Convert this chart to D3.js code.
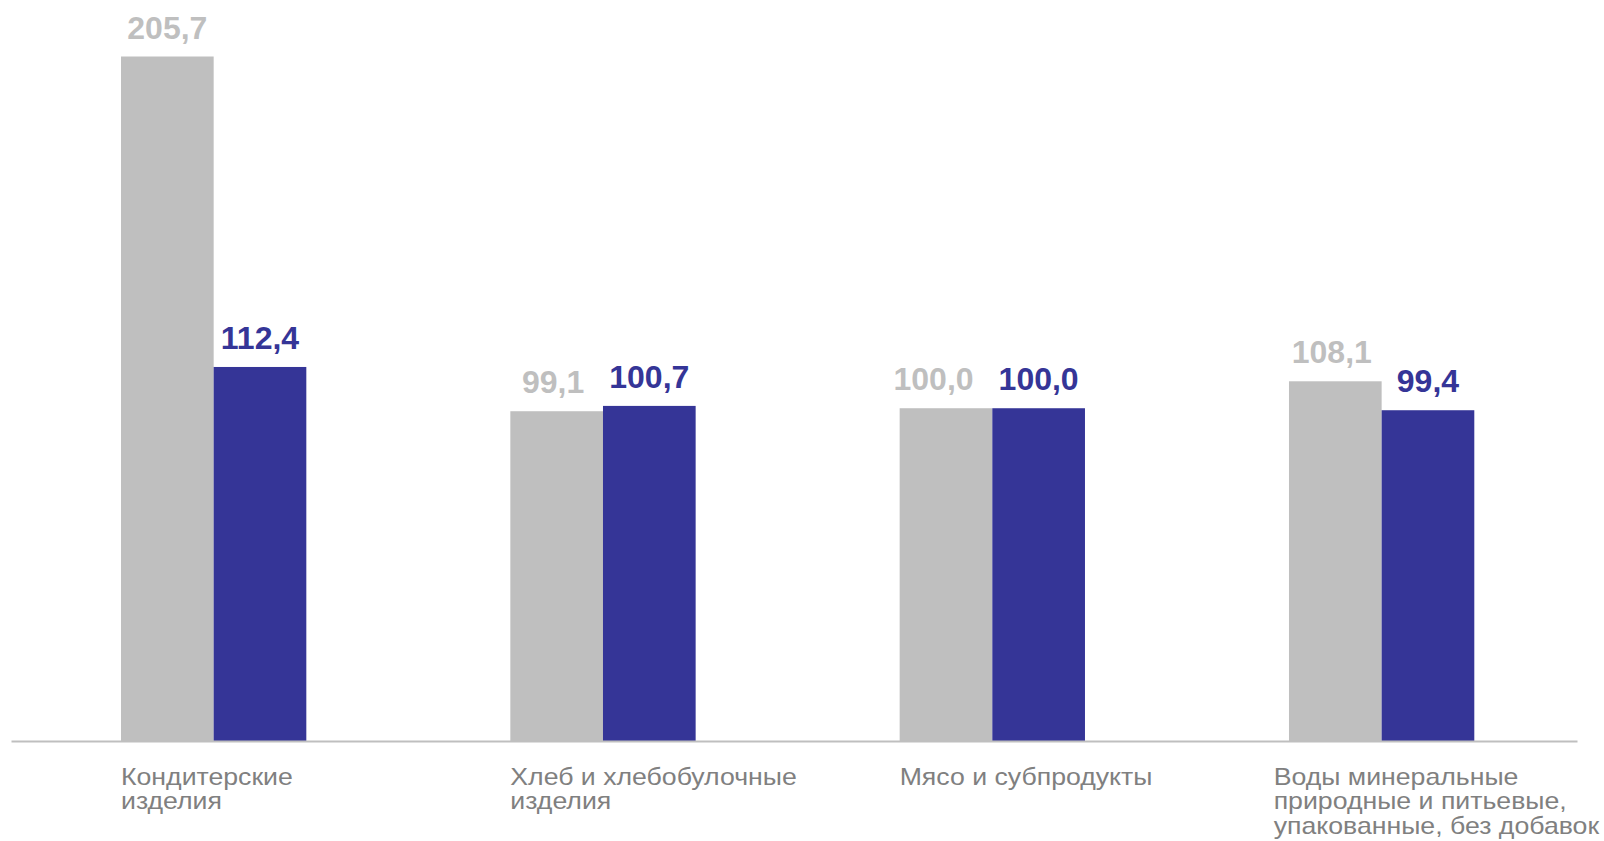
<!DOCTYPE html>
<html>
<head>
<meta charset="utf-8">
<script src="https://cdn.jsdelivr.net/npm/d3@7/dist/d3.min.js"></script>
<style>
  html, body { margin: 0; padding: 0; background: #ffffff; }
  svg { display: block; }
</style>
</head>
<body>
<svg id="chart" width="1604" height="841"></svg>
<script>
const categories = [
  ["Кондитерские", "изделия"],
  ["Хлеб и хлебобулочные", "изделия"],
  ["Мясо и субпродукты"],
  ["Воды минеральные", "природные и питьевые,", "упакованные, без добавок"]
];
const seriesNames = ["prev", "curr"];
const seriesPrev = [205.7, 99.1, 100.0, 108.1];
const seriesCurr = [112.4, 100.7, 100.0, 99.4];
const seriesColors = ["#bfbfbf", "#353597"];

const fmt = v => v.toFixed(1).replace(".", ",");
const W = 1604;

const svg = d3.select("#chart");
const catKeys = categories.map((c, i) => i);

const x0 = d3.scaleBand().domain(catKeys).range([121, 1474.3]).paddingInner(0.524).paddingOuter(0);
const x1 = d3.scaleBand().domain(seriesNames).range([0, x0.bandwidth()]).padding(0);
const y = d3.scaleLinear().domain([0, 205.7]).range([741, 56.5]);
const color = d3.scaleOrdinal().domain(seriesNames).range(seriesColors);

const rows = catKeys.map(i => ({
  i,
  vals: [
    { key: "prev", value: seriesPrev[i] },
    { key: "curr", value: seriesCurr[i] }
  ]
}));

const groups = svg.selectAll("g.grp").data(rows).join("g")
  .attr("class", "grp")
  .attr("transform", d => `translate(${x0(d.i)},0)`);

groups.selectAll("rect").data(d => d.vals).join("rect")
  .attr("x", d => x1(d.key))
  .attr("y", d => y(d.value))
  .attr("width", x1.bandwidth())
  .attr("height", d => y(0) - y(d.value))
  .attr("fill", d => color(d.key));

groups.each(function () {
  const g = d3.select(this);
  const texts = g.selectAll("text.val").data(d => d.vals).join("text")
    .attr("class", "val")
    .attr("x", d => x1(d.key) + x1.bandwidth() / 2)
    .attr("y", d => y(d.value) - 18)
    .attr("text-anchor", "middle")
    .attr("font-family", "'Liberation Sans', Arial, sans-serif")
    .attr("font-weight", "bold")
    .attr("font-size", 32)
    .attr("fill", d => color(d.key))
    .text(d => fmt(d.value));
  // avoid crowding: push the left label leftwards if labels are too close at similar heights
  const nodes = texts.nodes();
  const b0 = nodes[0].getBBox(), b1 = nodes[1].getBBox();
  const minGap = 25;
  const vOverlap = Math.abs(b0.y - b1.y) < b0.height;
  const gap = b1.x - (b0.x + b0.width);
  if (vOverlap && gap < minGap) {
    d3.select(nodes[0]).attr("x", +d3.select(nodes[0]).attr("x") - (minGap - gap));
  }
});

// baseline axis
const xAxis = d3.axisBottom(d3.scaleLinear().domain([0, 1]).range([11, 1577])).ticks(0).tickSize(0).tickFormat("");
const ax = svg.append("g").attr("transform", `translate(0,${y(0)})`).call(xAxis);
ax.select(".domain").attr("stroke", "#bfbfbf").attr("stroke-width", 2);

// category labels
const sx = 1.14;
const labelG = svg.selectAll("g.cat").data(rows).join("g")
  .attr("class", "cat");
const labels = labelG.append("text")
  .attr("x", 0)
  .attr("y", 785)
  .attr("font-family", "'Liberation Sans', Arial, sans-serif")
  .attr("font-size", 23.4)
  .attr("fill", "#808080");
labels.selectAll("tspan").data(d => categories[d.i].map((t, k) => ({ t, k }))).join("tspan")
  .attr("x", 0)
  .attr("dy", d => d.k === 0 ? 0 : 24.5)
  .text(d => d.t);
labelG.attr("transform", function (d) {
  const w = this.getBBox().width * sx;
  let tx = x0(d.i);
  if (tx + w > W - 4) tx = W - 4 - w;
  return `translate(${tx},0) scale(${sx},1)`;
});
</script>
</body>
</html>
